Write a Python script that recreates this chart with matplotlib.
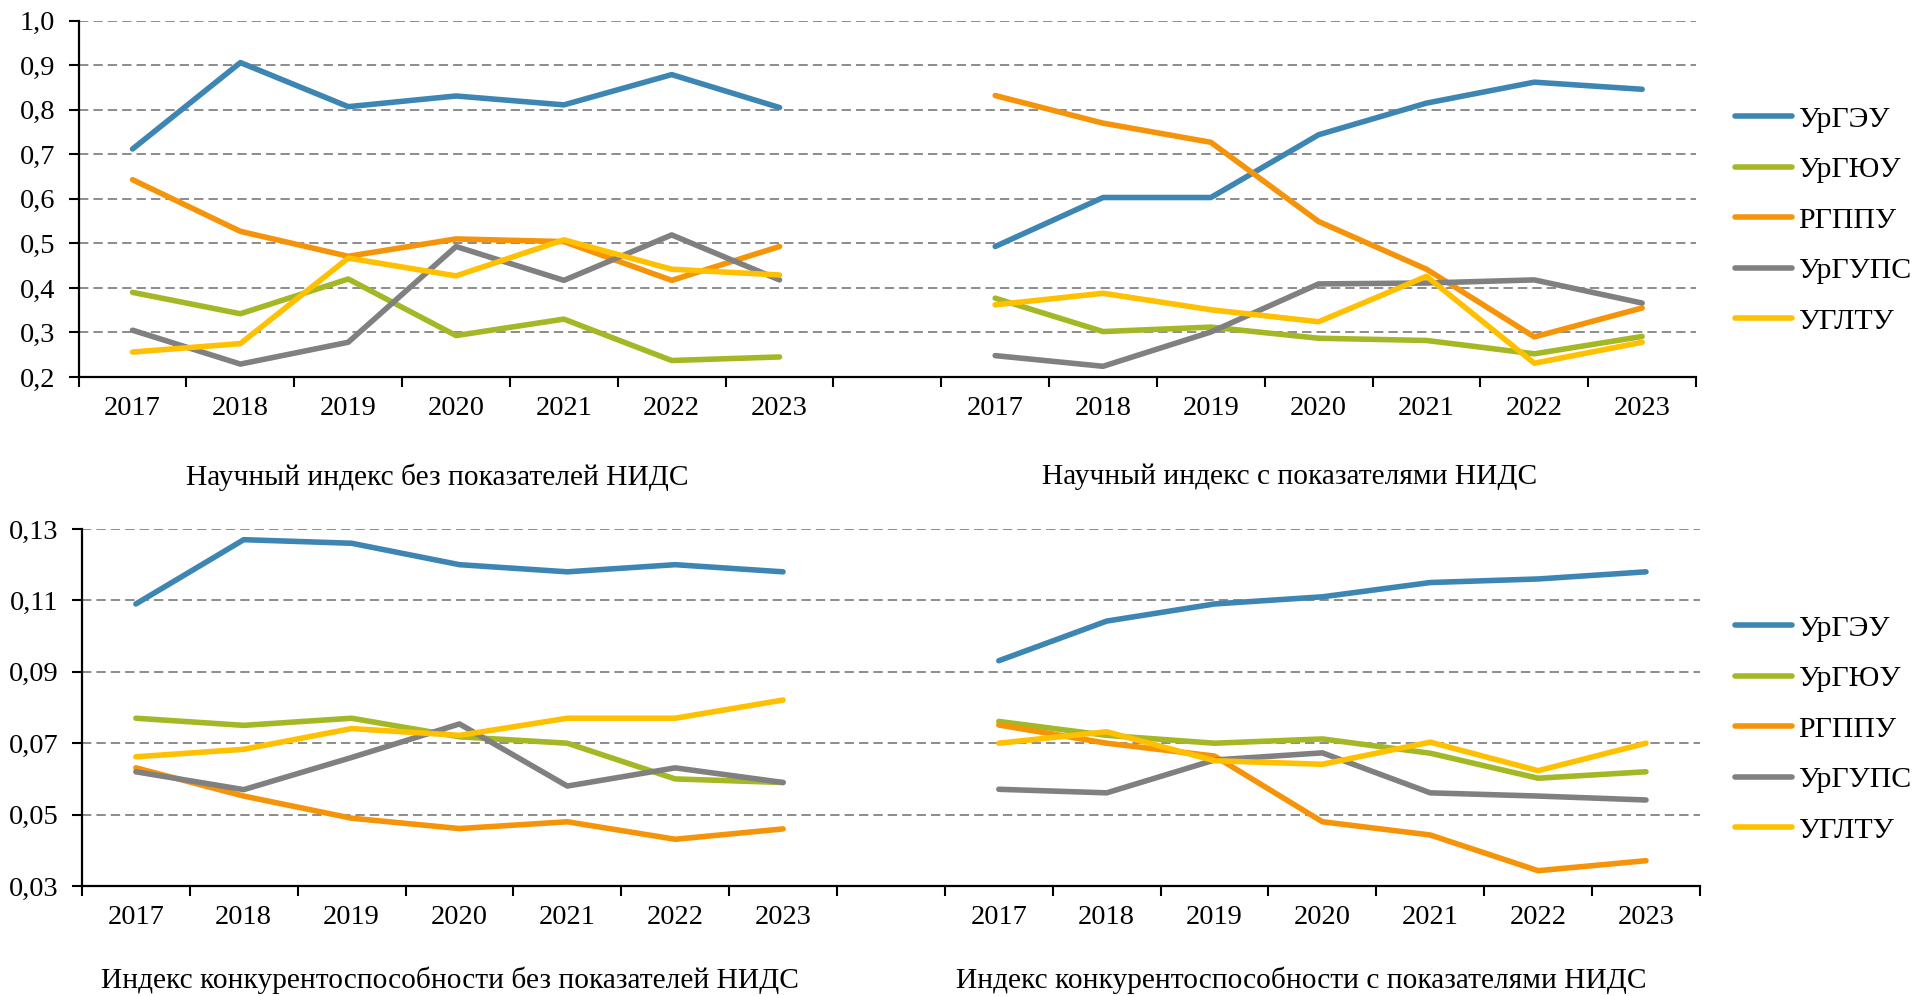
import matplotlib.pyplot as plt
import matplotlib.transforms as mtransforms
import numpy as np

years = ['2017', '2018', '2019', '2020', '2021', '2022', '2023']
unis = ['УрГЭУ', 'УрГЮУ', 'РГППУ', 'УрГУПС', 'УГЛТУ']
colors = ['#3D86B4', '#A4B825', '#F59309', '#808080', '#FFC000']

top_groups = ['Научный индекс без показателей НИДС', 'Научный индекс с показателями НИДС']
bottom_groups = ['Индекс конкурентоспособности без показателей НИДС',
                 'Индекс конкурентоспособности с показателями НИДС']

# научный индекс без НИДС
sci_no = [
    [0.712, 0.906, 0.807, 0.831, 0.811, 0.879, 0.805],
    [0.390, 0.342, 0.420, 0.293, 0.330, 0.237, 0.245],
    [0.643, 0.527, 0.471, 0.510, 0.504, 0.417, 0.493],
    [0.305, 0.229, 0.278, 0.493, 0.417, 0.519, 0.418],
    [0.256, 0.275, 0.467, 0.427, 0.508, 0.442, 0.429],
]
# научный индекс с НИДС
sci_with = [
    [0.493, 0.603, 0.603, 0.744, 0.815, 0.862, 0.846],
    [0.377, 0.302, 0.312, 0.287, 0.282, 0.252, 0.291],
    [0.832, 0.770, 0.727, 0.549, 0.442, 0.290, 0.355],
    [0.248, 0.224, 0.301, 0.409, 0.411, 0.418, 0.366],
    [0.362, 0.388, 0.351, 0.324, 0.426, 0.231, 0.278],
]
# индекс конкурентоспособности без НИДС
comp_no = [
    [0.109, 0.127, 0.126, 0.120, 0.118, 0.120, 0.118],
    [0.077, 0.075, 0.077, 0.0718, 0.070, 0.060, 0.059],
    [0.0631, 0.0552, 0.049, 0.0461, 0.048, 0.0431, 0.046],
    [0.062, 0.057, 0.066, 0.0754, 0.058, 0.0631, 0.059],
    [0.0662, 0.0683, 0.0741, 0.0722, 0.077, 0.077, 0.0821],
]
# индекс конкурентоспособности с НИДС
comp_with = [
    [0.0931, 0.1042, 0.109, 0.111, 0.115, 0.116, 0.118],
    [0.0761, 0.0722, 0.070, 0.0712, 0.0672, 0.0602, 0.062],
    [0.0751, 0.070, 0.0664, 0.048, 0.0443, 0.0343, 0.0371],
    [0.0571, 0.0561, 0.0653, 0.0673, 0.0561, 0.0552, 0.0541],
    [0.070, 0.0732, 0.0651, 0.0641, 0.0703, 0.0623, 0.070],
]

plt.rcParams['font.family'] = ['Liberation Serif', 'DejaVu Serif']
FS = 20.5

fig = plt.figure(figsize=(19.28, 9.96), dpi=100)
ax1 = fig.add_axes([0.0408, 0.6215, 0.8389, 0.3577])
ax2 = fig.add_axes([0.0425, 0.1104, 0.8392, 0.3585])

n = len(years)
x_left = np.arange(n)
x_right = np.arange(n) + n + 1
all_x = np.concatenate([x_left, x_right])
labels = years + years


def draw(ax, left, right, ylim, step, fmt, groups, group_dx, group_off, legend_y):
    for i, name in enumerate(unis):
        ax.plot(x_left, left[i], color=colors[i], lw=4.0, label=name,
                solid_capstyle='round', solid_joinstyle='round', zorder=3)
        ax.plot(x_right, right[i], color=colors[i], lw=4.0,
                solid_capstyle='round', solid_joinstyle='round', zorder=3)
    ax.set_xlim(-0.5, 2 * n + 0.5)
    ax.set_ylim(*ylim)
    ticks = np.arange(ylim[0], ylim[1] + step / 2, step)
    ax.set_yticks(ticks)
    ax.set_yticklabels([fmt.format(t).replace('.', ',') for t in ticks], fontsize=FS)
    ax.set_xticks(all_x)
    ax.set_xticklabels(labels, fontsize=FS)
    ax.set_xticks(np.arange(-0.5, 2 * n + 1), minor=True)
    ax.tick_params(axis='x', which='major', length=0, pad=14)
    ax.tick_params(axis='x', which='minor', length=7, width=1.5, direction='out')
    ax.tick_params(axis='y', length=7, width=1.5, pad=10)
    for s in ['top', 'right']:
        ax.spines[s].set_visible(False)
    for s in ['left', 'bottom']:
        ax.spines[s].set_linewidth(1.6)
    ax.yaxis.grid(True, color='#8C8C8C', lw=1.4, linestyle=(0, (4.8, 2.6)))
    ax.set_axisbelow(True)
    trans = mtransforms.blended_transform_factory(ax.transData, ax.transAxes)
    for g, xs, dx in zip(groups, [x_left, x_right], group_dx):
        ax.annotate(g, xy=(xs.mean() + dx, 0), xycoords=trans,
                    xytext=(0, group_off), textcoords='offset points',
                    ha='center', va='center', fontsize=21.2)
    ax.legend(loc='center left', bbox_to_anchor=(1735 / 1928, legend_y),
              bbox_transform=fig.transFigure, frameon=False, fontsize=21.5,
              handlelength=1.9, handletextpad=0.2, labelspacing=0.79,
              borderpad=0, borderaxespad=0)


draw(ax1, sci_no, sci_with, (0.2, 1.0), 0.1, '{:.1f}', top_groups,
     (-0.17, -0.27), -72, 0.779)
draw(ax2, comp_no, comp_with, (0.03, 0.13), 0.02, '{:.2f}', bottom_groups,
     (-0.09, -0.2), -68, 0.268)

fig.savefig('out.png', dpi=100)
